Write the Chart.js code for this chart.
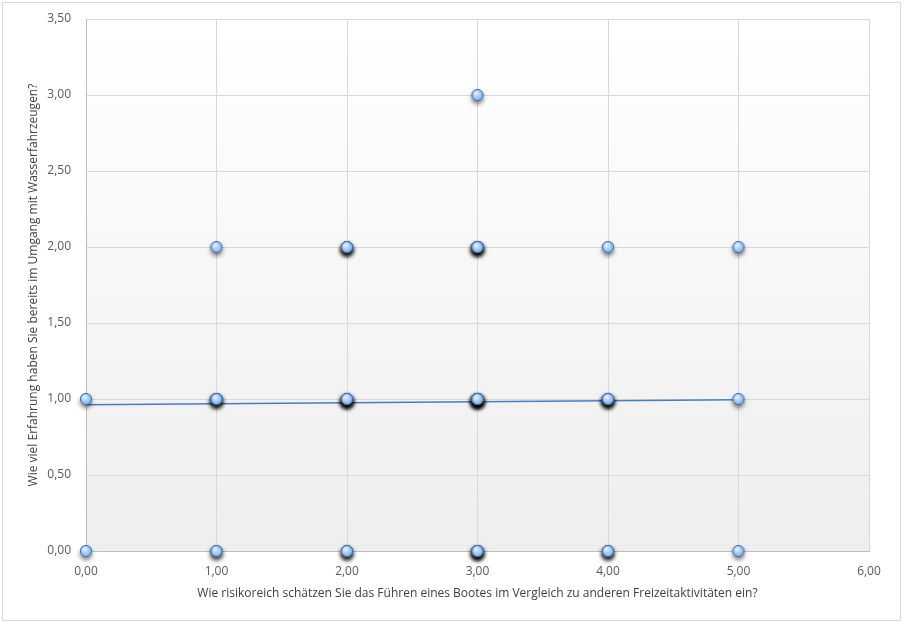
<!DOCTYPE html>
<html>
<head>
<meta charset="utf-8">
<script src="https://cdn.jsdelivr.net/npm/chart.js@4"></script>
<style>
  html, body { margin: 0; padding: 0; background: #ffffff; }
  #wrap { position: relative; width: 904px; height: 624px; }
</style>
</head>
<body>
<div id="wrap"><canvas id="chart" width="904" height="624"></canvas></div>
<script>
// Antworten (x = Risiko, y = Erfahrung), eine Zeile pro Befragtem
const xWerte = [0, 0,
  1, 1, 1, 1, 1, 1, 1,
  2, 2, 2, 2, 2, 2, 2, 2, 2, 2, 2, 2, 2,
  3, 3, 3, 3, 3, 3, 3, 3, 3, 3, 3, 3, 3, 3, 3, 3, 3, 3, 3,
  4, 4, 4, 4, 4, 4, 4, 4, 4,
  5, 5, 5];
const yWerte = [0, 1,
  0, 0, 1, 1, 1, 1, 2,
  0, 0, 0, 1, 1, 1, 1, 1, 1, 2, 2, 2, 2,
  0, 0, 0, 0, 0, 1, 1, 1, 1, 1, 1, 1, 1, 2, 2, 2, 2, 2, 3,
  0, 0, 0, 1, 1, 1, 1, 1, 2,
  0, 1, 2];
// lineare Trendlinie (Endpunkte)
const trendX = [0, 5];
const trendY = [0.962, 0.995];
const xTitel = 'Wie risikoreich schätzen Sie das Führen eines Bootes im Vergleich zu anderen Freizeitaktivitäten ein?';
const yTitel = 'Wie viel Erfahrung haben Sie bereits im Umgang mit Wasserfahrzeugen?';

const fmt = v => v.toFixed(2).replace('.', ',');

// Marker als kleines Bild mit Verlauf
function makeMarker() {
  const c = document.createElement('canvas');
  c.width = 14; c.height = 14;
  const g = c.getContext('2d');
  const grad = g.createRadialGradient(5.5, 5, 0.5, 7, 7, 6.5);
  grad.addColorStop(0, '#e6f0fc');
  grad.addColorStop(0.6, '#9ec2ee');
  grad.addColorStop(1, '#6f9fd8');
  g.beginPath();
  g.arc(7, 7, 5.6, 0, Math.PI * 2);
  g.fillStyle = grad;
  g.fill();
  g.lineWidth = 1;
  g.strokeStyle = '#3f72b5';
  g.stroke();
  return c;
}

const rahmen = {
  id: 'rahmen',
  beforeDraw(chart) {
    const { ctx, chartArea: a } = chart;
    ctx.save();
    ctx.fillStyle = '#ffffff';
    ctx.fillRect(0, 0, chart.width, chart.height);
    ctx.strokeStyle = '#d9d9d9';
    ctx.lineWidth = 1;
    ctx.strokeRect(2.5, 2.5, 898, 618);
    const grad = ctx.createLinearGradient(0, a.top, 0, a.bottom);
    grad.addColorStop(0, '#ffffff');
    grad.addColorStop(1, '#eeeeee');
    ctx.fillStyle = grad;
    ctx.fillRect(a.left, a.top, a.right - a.left, a.bottom - a.top);
    ctx.restore();
  }
};

// Schatten: übereinanderliegende Punkte werden dunkler
const schatten = {
  id: 'schatten',
  beforeDatasetDraw(chart, args) {
    if (args.index !== 0) return;
    const ctx = chart.ctx;
    ctx.save();
    ctx.shadowColor = 'rgba(0,0,0,0.5)';
    ctx.shadowBlur = 4;
    ctx.shadowOffsetY = 3;
    ctx.shadowOffsetX = 0;
  },
  afterDatasetDraw(chart, args) {
    if (args.index !== 0) return;
    chart.ctx.restore();
  }
};

const tickFont = { family: 'Open Sans, Lato, sans-serif', size: 12 };

new Chart(document.getElementById('chart'), {
  type: 'scatter',
  data: {
    datasets: [{
      label: 'Antworten',
      data: xWerte.map((x, i) => ({ x: x, y: yWerte[i] })),
      pointStyle: makeMarker(),
      clip: false,
      order: 1
    }, {
      type: 'line',
      label: 'Trend',
      data: trendX.map((x, i) => ({ x: x, y: trendY[i] })),
      borderColor: '#4a7ebb',
      borderWidth: 1.5,
      pointRadius: 0,
      fill: false,
      order: 2
    }]
  },
  options: {
    responsive: false,
    animation: false,
    layout: { padding: { left: 0, right: 35, top: 19, bottom: 0 } },
    plugins: { legend: { display: false }, tooltip: { enabled: false } },
    scales: {
      x: {
        type: 'linear',
        min: 0, max: 6,
        afterFit(s) { s.height = 73; s.paddingLeft = 0; s.paddingRight = 0; },
        grid: { color: '#d9d9d9', drawTicks: false },
        border: { color: '#bfbfbf' },
        ticks: { stepSize: 1, padding: 13, color: '#595959', font: tickFont, callback: v => fmt(v) },
        title: { display: true, text: xTitel, color: '#404040', font: tickFont, padding: { top: 23, bottom: 23 } }
      },
      y: {
        min: 0, max: 3.5,
        afterFit(s) { s.width = 86; s.paddingTop = 0; s.paddingBottom = 0; },
        grid: { color: '#d9d9d9', drawTicks: false },
        border: { color: '#bfbfbf' },
        ticks: { stepSize: 0.5, padding: 15, color: '#595959', font: tickFont, callback: v => fmt(v) },
        title: { display: true, text: yTitel, color: '#404040', font: tickFont, padding: { top: 26, bottom: 26 } }
      }
    }
  },
  plugins: [rahmen, schatten]
});
</script>
</body>
</html>
